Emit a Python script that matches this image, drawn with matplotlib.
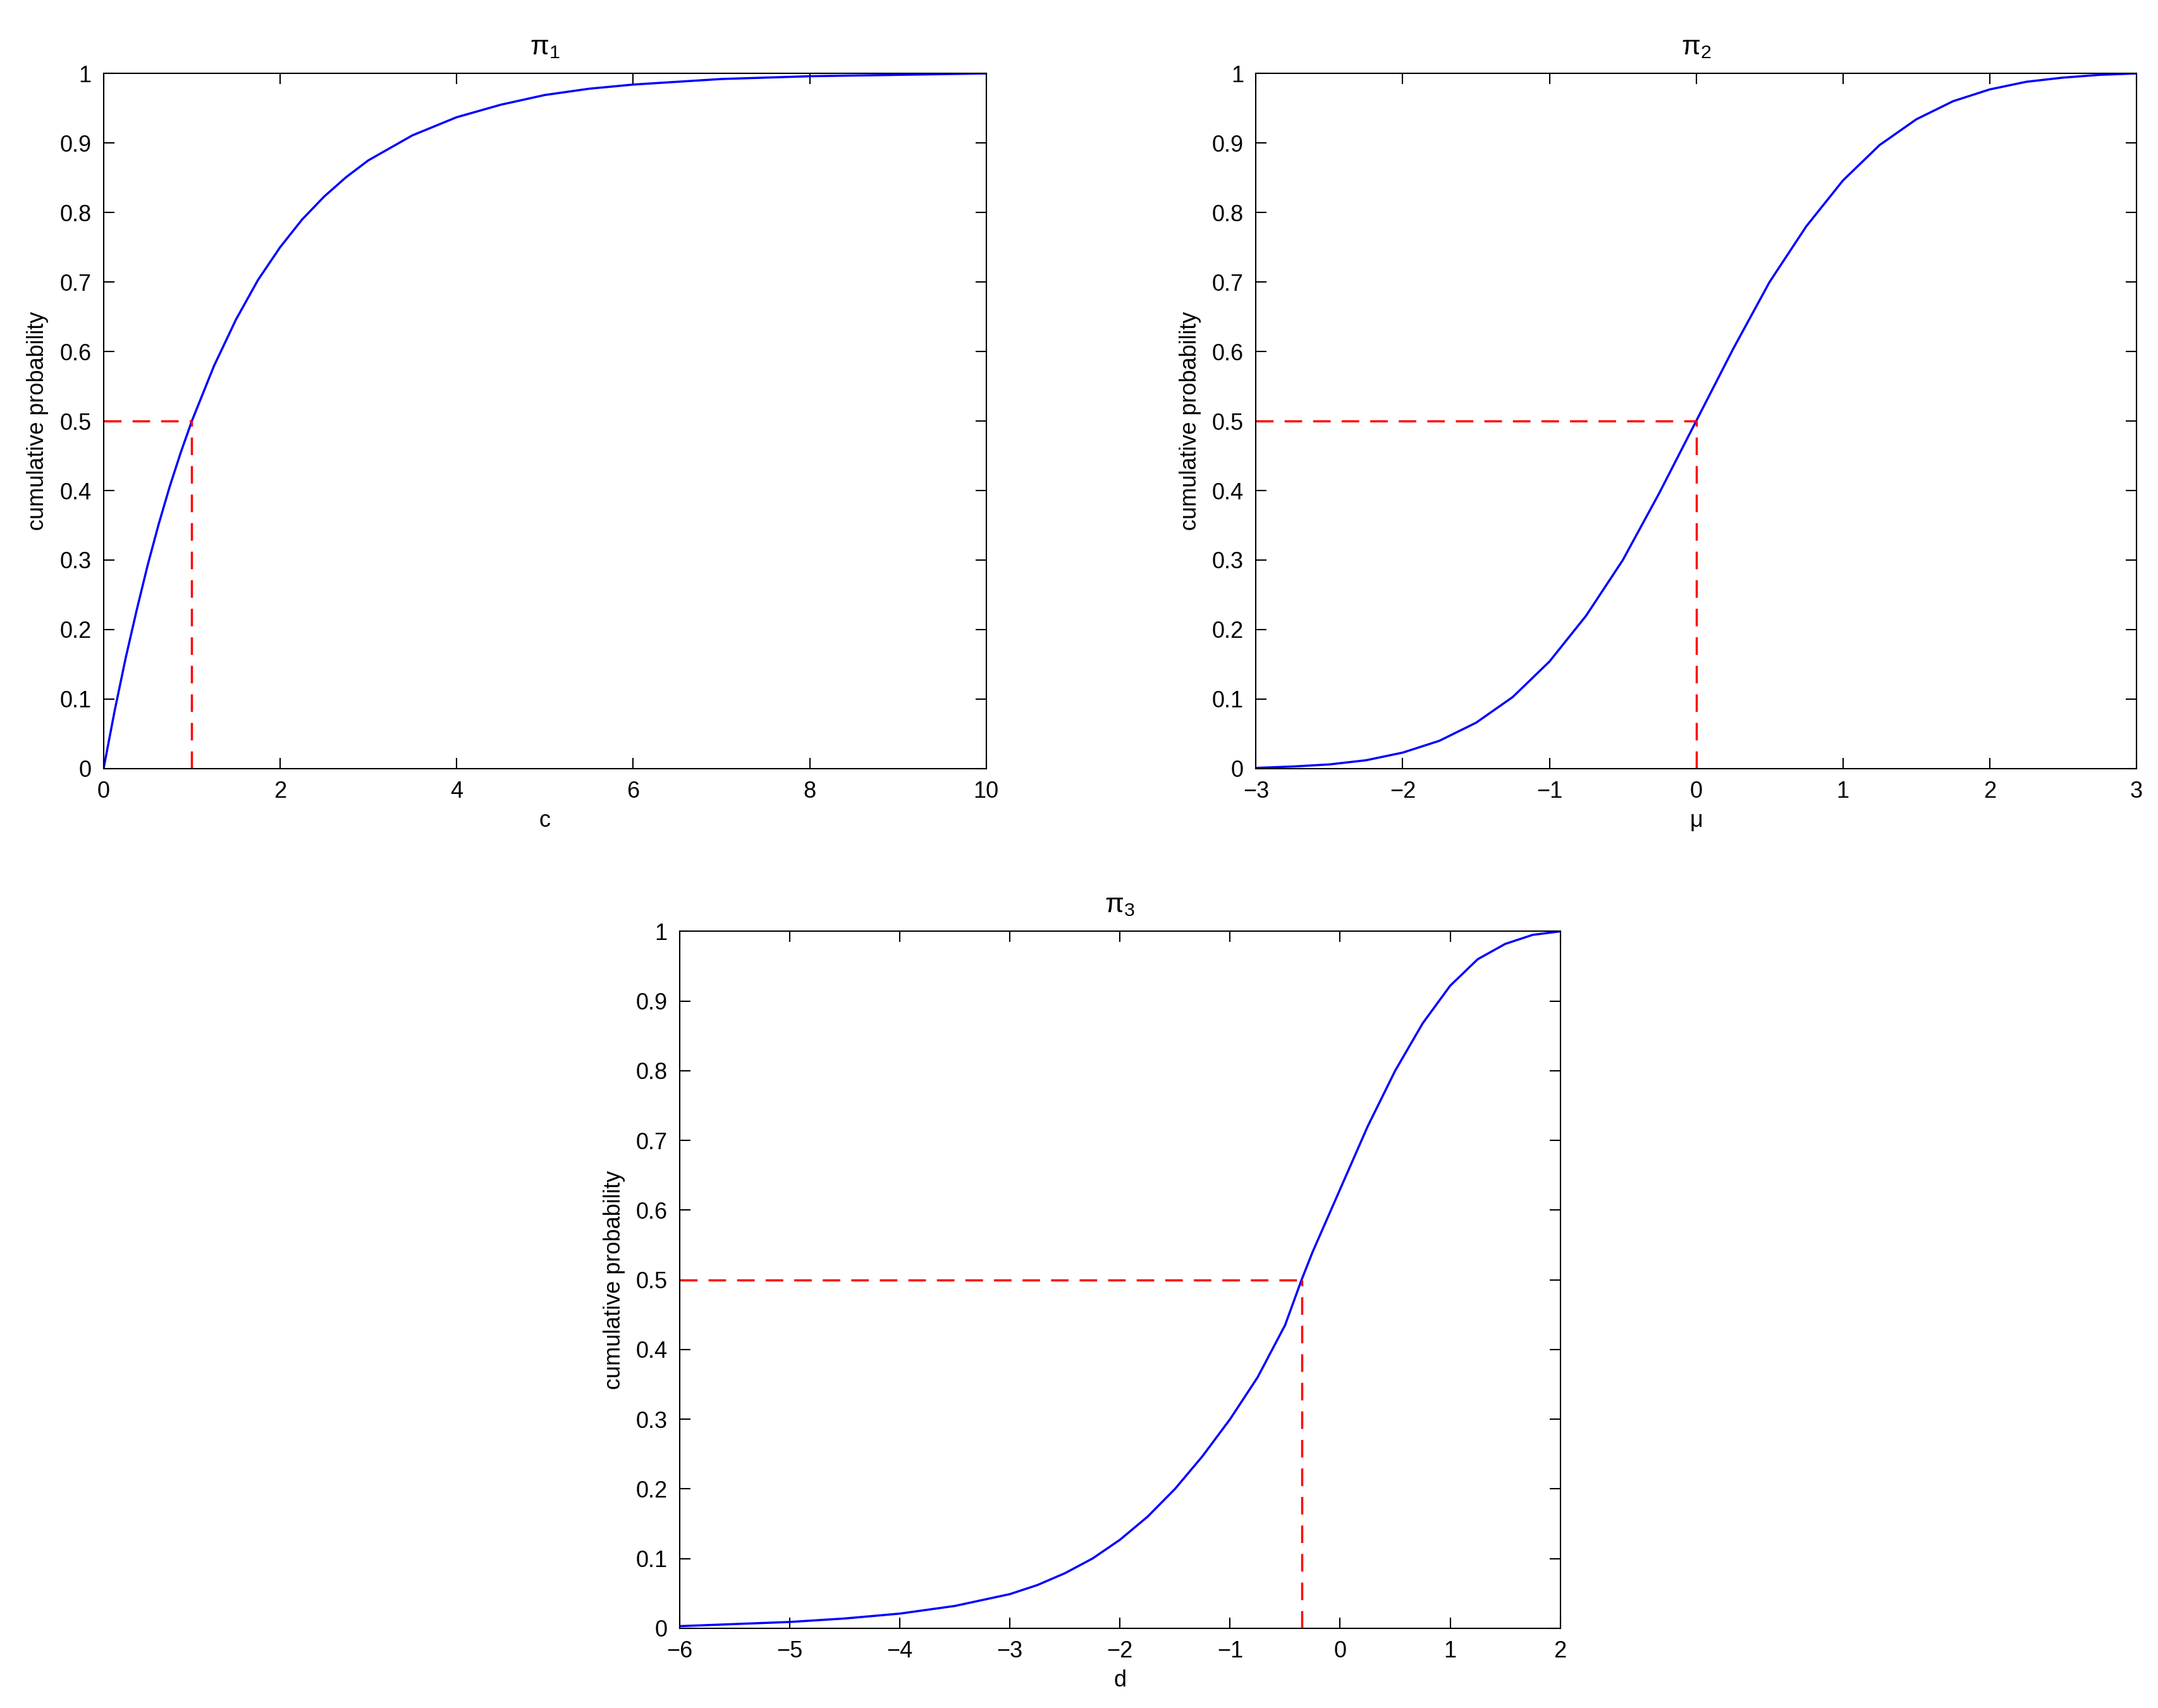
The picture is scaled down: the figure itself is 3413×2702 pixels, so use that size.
import matplotlib.pyplot as plt
import numpy as np

# values
c = [0, 0.125, 0.25, 0.375, 0.5, 0.625, 0.75, 0.875, 1, 1.25, 1.5, 1.75, 2, 2.25, 2.5, 2.75, 3, 3.5, 4, 4.5, 5, 5.5, 6, 7, 8, 9, 10]
pc = [0, 0.083, 0.159, 0.228, 0.293, 0.352, 0.406, 0.455, 0.5, 0.579, 0.646, 0.703, 0.75, 0.79, 0.823, 0.851, 0.875, 0.911, 0.937, 0.955, 0.969, 0.978, 0.984, 0.992, 0.996, 0.998, 1]
mu = [-3, -2.75, -2.5, -2.25, -2, -1.75, -1.5, -1.25, -1, -0.75, -0.5, -0.25, 0, 0.25, 0.5, 0.75, 1, 1.25, 1.5, 1.75, 2, 2.25, 2.5, 2.75, 3]
pmu = [0.001, 0.003, 0.006, 0.012, 0.023, 0.04, 0.066, 0.103, 0.154, 0.22, 0.3, 0.397, 0.5, 0.603, 0.7, 0.78, 0.846, 0.897, 0.934, 0.96, 0.977, 0.988, 0.994, 0.998, 1]
d = [-6, -5.5, -5, -4.5, -4, -3.5, -3, -2.75, -2.5, -2.25, -2, -1.75, -1.5, -1.25, -1, -0.75, -0.5, -0.35, -0.25, 0, 0.25, 0.5, 0.75, 1, 1.25, 1.5, 1.75, 2]
pd_ = [0.003, 0.006, 0.009, 0.014, 0.021, 0.032, 0.049, 0.062, 0.079, 0.1, 0.127, 0.16, 0.2, 0.247, 0.3, 0.36, 0.435, 0.5, 0.54, 0.63, 0.72, 0.8, 0.868, 0.922, 0.96, 0.982, 0.995, 1.0]
medians = [1, 0, -0.35]

plt.rcParams['font.family'] = 'Liberation Sans'
plt.rcParams['font.size'] = 26
plt.rcParams['mathtext.default'] = 'regular'

fig = plt.figure(figsize=(34.13, 27.02), dpi=100)
rects = [[0.048, 0.550, 0.409, 0.407], [0.582, 0.550, 0.408, 0.407], [0.315, 0.0467, 0.408, 0.408]]
xs = [c, mu, d]
ys = [pc, pmu, pd_]
xlims = [(0, 10), (-3, 3), (-6, 2)]
xlabels = ['c', 'μ', 'd']
titles = [r'$\pi_1$', r'$\pi_2$', r'$\pi_3$']

for i in range(3):
    ax = fig.add_axes(rects[i])
    ax.plot(xs[i], ys[i], color='blue', lw=2.5)
    m = medians[i]
    ax.plot([xlims[i][0], m], [0.5, 0.5], 'r--', lw=2.5, dashes=(8, 5))
    ax.plot([m, m], [0, 0.5], 'r--', lw=2.5, dashes=(8, 5))
    ax.set_xlim(*xlims[i])
    ax.set_ylim(0, 1)
    ax.set_yticks(np.arange(0, 1.01, 0.1))
    ax.set_yticklabels(['0'] + ['%.1f' % v for v in np.arange(0.1, 0.95, 0.1)] + ['1'])
    xt = ax.get_xticks()
    ax.set_xticklabels(['%g' % v if v >= 0 else '\u2212%g' % -v for v in xt])
    ax.tick_params(direction='in', top=True, right=True, length=12, width=1.5, pad=14)
    for s in ax.spines.values():
        s.set_linewidth(1.5)
    ax.set_xlabel(xlabels[i], labelpad=8)
    ax.set_ylabel('cumulative probability', labelpad=12)
    ax.set_title(titles[i], pad=22)

fig.savefig('out.png')
